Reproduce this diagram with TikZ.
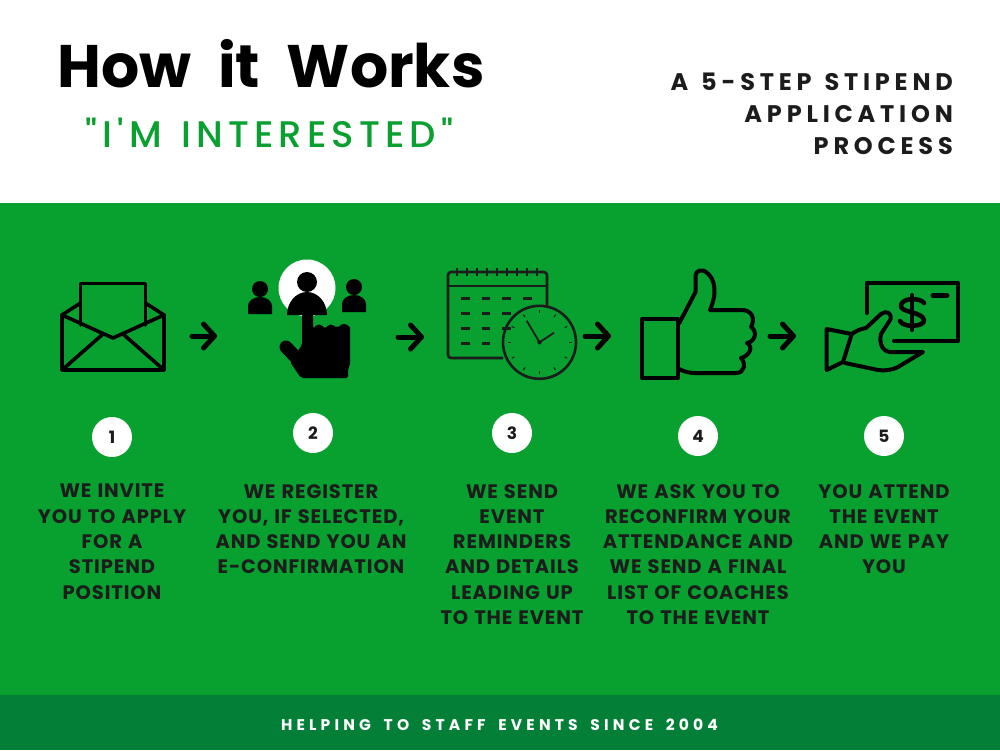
\documentclass[tikz,border=0pt]{standalone}
\usepackage{fontspec}
\setmainfont{Poppins}
\newfontfamily\bodyfont[LetterSpace=4.5,WordSpace=1.2]{Poppins Bold}
\newfontfamily\headfont[LetterSpace=20,WordSpace=1.3]{Poppins Bold}
\newfontfamily\subfont[LetterSpace=14,WordSpace=1.3]{Poppins Medium}
\newfontfamily\footfont[LetterSpace=27,WordSpace=1.7]{Poppins Bold}
\usetikzlibrary{arrows.meta,calc}
\definecolor{bandgreen}{HTML}{08A02F}
\definecolor{footgreen}{HTML}{047F38}
\definecolor{inkdark}{HTML}{1C1C1C}
\tikzset{
  stepnum/.style={circle,fill=white,minimum size=40pt,inner sep=0pt,font=\bfseries\fontsize{17}{20}\selectfont,text=inkdark},
  steptext/.style={anchor=north,align=center,inner sep=0pt,text=inkdark,font=\bodyfont\fontsize{19.5}{25.3}\selectfont},
  flowarrow/.style={line width=5pt,line cap=round,-{Straight Barb[round,length=11pt,width=24pt]}},
  icon/.style={line width=3.6pt,line join=round,line cap=round},
  calicon/.style={line width=2.6pt,line join=round,draw=inkdark,line cap=butt},
}
\begin{document}
\begin{tikzpicture}[x=1pt,y=-1pt]
\useasboundingbox (0,0) rectangle (1000,750);
\fill[white] (0,0) rectangle (1000,203);
\fill[bandgreen] (0,203) rectangle (1000,695);
\fill[footgreen] (0,695) rectangle (1000,750);
% titles
\node[inner sep=0pt,anchor=center] (title) at (271,64) {\fontsize{60}{70}\selectfont\bfseries How\hspace{14pt} it\hspace{14pt} Works};
\node[inner sep=0pt,anchor=center,text=bandgreen] (sub) at (269.5,133) {\subfont\fontsize{37}{40}\selectfont "I'M INTERESTED"};
\node[inner sep=0pt,anchor=north east,align=right,text=inkdark,font=\headfont\fontsize{24}{31.8}\selectfont] (tagline) at (953,73) {A 5-STEP STIPEND\\APPLICATION\\PROCESS};
\node[inner sep=0pt,text=white] (foot) at (499.5,725) {\footfont\fontsize{15.5}{18}\selectfont HELPING TO STAFF EVENTS SINCE 2004};
% envelope
\draw[icon] (62,315) -- (62,370) -- (164,370) -- (164,315);
\draw[icon] (62,315) -- (113,338) -- (164,315);
\draw[icon] (62,315) -- (80.5,303) (164,315) -- (145.5,303);
\draw[icon] (80.5,325) -- (80.5,283.5) -- (145.5,283.5) -- (145.5,325);
\draw[icon] (62,370) -- (103,334) (164,370) -- (123,334);
% person/hand
\fill[white] (307,288) circle (28.5);
\fill (307,282) circle (10);
\fill (287,315) arc[start angle=180,end angle=0,x radius=20,y radius=-23] -- cycle;
\fill (260,289) circle (8);
\fill (248,314) -- (248,306) arc[start angle=180,end angle=0,x radius=12,y radius=-9] -- (272,314) -- cycle;
\fill (354,287) circle (8);
\fill (342,312) -- (342,304) arc[start angle=180,end angle=0,x radius=12,y radius=-9] -- (366,312) -- cycle;
\fill[rounded corners=2pt] (302,312) -- (313,312) -- (313,328) -- (350,326) -- (350,366) -- (348,368) -- (348,378) -- (301,378) -- (290,362) -- (302,345) -- cycle;
\fill (319,330) circle (5.5) (331,330) circle (5.5) (344,330) circle (6);
\draw[line width=13pt,line cap=round] (286,347) -- (305,367);
% calendar
\draw[calicon,rounded corners=3pt] (503,358) -- (448,358) -- (448,272) -- (547,272) -- (547,306);
\draw[calicon] (448,286) -- (547,286);
\foreach \i in {0,...,8} \draw[calicon] (457+10*\i,268) -- (457+10*\i,276);
\foreach \yy/\n in {298.3/4,313.3/3,328.3/3,343.3/2}{
  \foreach \i in {1,...,\n} \draw[calicon] (461+20.7*\i-20.7,\yy) -- (469.5+20.7*\i-20.7,\yy);
}
\draw[calicon] (539.5,342.3) circle (36.5);
\draw[line width=1.8pt,draw=inkdark] (539.5,342.3) -- (526.7,320.7) (539.5,342.3) -- (554,332.7);
\fill[inkdark] (539.5,342.3) circle (2.2);
\foreach \a in {0,30,...,330}
  \draw[line width=1pt,draw=inkdark] ($(539.5,342.3)+(\a:29)$) -- ($(539.5,342.3)+(\a:32)$);
% thumb
\draw[icon,line width=4pt] (642,319) rectangle (678,378);
\draw[icon,line width=4pt] (679.3,323) -- (695.7,291.7) -- (695.7,275) .. controls (696,270) and (703,269) .. (706,272)
 .. controls (716,279) and (717,294) .. (710,310) -- (742,310) .. controls (751,310) and (756,318) .. (751,327)
 .. controls (758,331) and (755,342) .. (747,343) .. controls (754,347) and (749,356) .. (741,358)
 .. controls (746,363) and (745,373) .. (736,373) -- (695,373) .. controls (688,373) and (683,371) .. (679,369);
% money
\draw[icon,line width=4pt] (866.7,313) -- (866.7,283) -- (958,283) -- (958,341) -- (894,341);
\draw[icon,line width=5pt] (933,295.5) -- (947,295.5);
\draw[icon,line width=4pt] (912,295) -- (912,330);
\draw[icon,line width=4.5pt] (924,303) .. controls (921,298) and (903,297) .. (901,305) .. controls (899,313) and (922,311) .. (924,320)
  .. controls (925,327) and (903,328) .. (900,321);
\draw[icon,line width=4pt] (826.7,329) -- (851.7,334) -- (843,362) -- (826.7,370) -- cycle;
\draw[icon,line width=4pt] (851.7,334) .. controls (856,331) and (860,329) .. (866,328) -- (881,314) .. controls (886,310) and (892,313) .. (890.7,319)
  -- (881,334) .. controls (879,343) and (882,351) .. (890,352) -- (923,352) -- (898,367) .. controls (892,370) and (885,371) .. (878,370) -- (845,363);
% arrows
\coordinate (a1s) at (192,336); \coordinate (a1e) at (217,336);
\coordinate (a2s) at (398,337); \coordinate (a2e) at (424,337);
\coordinate (a3s) at (585,336); \coordinate (a3e) at (611,336);
\coordinate (a4s) at (770,336); \coordinate (a4e) at (796,336);
\draw[flowarrow] (a1s) -- (a1e);
\draw[flowarrow] (a2s) -- (a2e);
\draw[flowarrow] (a3s) -- (a3e);
\draw[flowarrow] (a4s) -- (a4e);
% steps
\node[stepnum] (n1) at (112,437) {1};
\node[stepnum] (n2) at (313,433) {2};
\node[stepnum] (n3) at (512,433) {3};
\node[stepnum] (n4) at (698,436) {4};
\node[stepnum] (n5) at (884,436) {5};
\node[steptext] (t1) at (112,484) {WE INVITE\\YOU TO APPLY\\FOR A\\STIPEND\\POSITION};
\node[steptext] (t2) at (311,484) {WE REGISTER\\YOU, IF SELECTED,\\AND SEND YOU AN\\E-CONFIRMATION};
\node[steptext] (t3) at (512,484) {WE SEND\\EVENT\\REMINDERS\\AND DETAILS\\LEADING UP\\TO THE EVENT};
\node[steptext] (t4) at (698,484) {WE ASK YOU TO\\RECONFIRM YOUR\\ATTENDANCE AND\\WE SEND A FINAL\\LIST OF COACHES\\TO THE EVENT};
\node[steptext] (t5) at (884,484) {YOU ATTEND\\THE EVENT\\AND WE PAY\\YOU};
\end{tikzpicture}
\end{document}
